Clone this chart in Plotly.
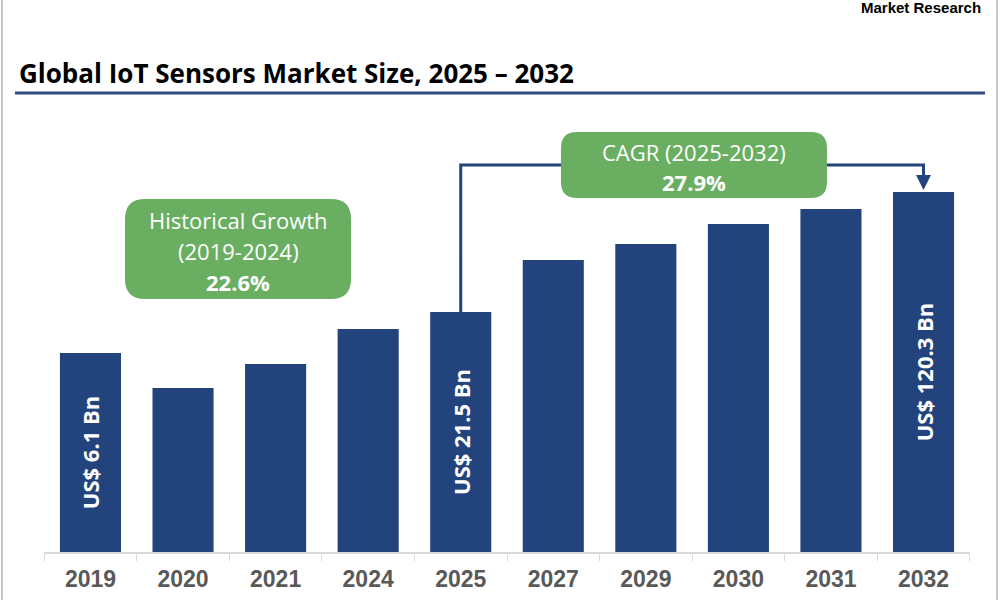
import plotly.graph_objects as go

# data (bar heights are the drawn heights)
years = ["2019", "2020", "2021", "2024", "2025", "2027", "2029", "2030", "2031", "2032"]
bar_heights = [199, 164, 188, 223, 240, 292, 308, 328, 343, 360]
bar_labels = ["US$ 6.1 Bn", "", "", "", "US$ 21.5 Bn", "", "", "", "", "US$ 120.3 Bn"]

hist_lines = ["Historical Growth", "(2019-2024)", "<b>22.6%</b>"]
cagr_lines = ["CAGR (2025-2032)", "<b>27.9%</b>"]

NAVY = "#23437D"
GREEN = "#6AAE62"
W, H = 1000, 600

fig = go.Figure()
fig.add_trace(go.Bar(
    x=years, y=bar_heights, marker_color=NAVY, marker_line_width=0,
    text=bar_labels, textposition="inside", textangle=-90,
    insidetextanchor="middle",
    textfont=dict(family="Open Sans", size=22, color="white", weight="bold"),
    hoverinfo="skip",
))


def rounded_box(x0, x1, y0, y1, r_px):
    # x in category units (1 unit = 92.56 px), y in px units
    rx = r_px / 92.56
    ry = r_px
    return (f"M {x0+rx},{y0} L {x1-rx},{y0} Q {x1},{y0} {x1},{y0+ry} "
            f"L {x1},{y1-ry} Q {x1},{y1} {x1-rx},{y1} L {x0+rx},{y1} "
            f"Q {x0},{y1} {x0},{y1-ry} L {x0},{y0+ry} Q {x0},{y0} {x0+rx},{y0} Z")


i25 = years.index("2025")
i32 = years.index("2032")
line_y = 387

shapes = [
    # connector from the 2025 bar to the 2032 bar
    dict(type="path", xref="x", yref="y",
         path=f"M {i25},{bar_heights[i25]} L {i25},{line_y} L {i32},{line_y} L {i32},{line_y-10}",
         line=dict(color=NAVY, width=3)),
    dict(type="path", xref="x", yref="y", path=rounded_box(0.373, 2.815, 253, 353, 20),
         fillcolor=GREEN, line_width=0),
    dict(type="path", xref="x", yref="y", path=rounded_box(5.083, 7.957, 354, 420, 16),
         fillcolor=GREEN, line_width=0),
    # title underline
    dict(type="line", xref="paper", yref="paper", x0=0.015, x1=0.985,
         y0=1 - 93 / H, y1=1 - 93 / H, line=dict(color="#2F4B7C", width=3)),
    # page borders
    dict(type="line", xref="paper", yref="paper", x0=0.002, x1=0.002, y0=0, y1=1,
         line=dict(color="#C8C8C8", width=2)),
    dict(type="line", xref="paper", yref="paper", x0=0.997, x1=0.997, y0=0, y1=1,
         line=dict(color="#C8C8C8", width=2)),
]

annotations = [
    dict(text="Global IoT Sensors Market Size, 2025 – 2032", xref="paper", yref="paper",
         x=0.017, y=1 - 73 / H, xanchor="left", yanchor="middle", showarrow=False,
         font=dict(family="Open Sans", size=26, color="black", weight="bold")),
    dict(text="Market Research", xref="paper", yref="paper",
         x=0.983, y=1 - 8 / H, xanchor="right", yanchor="middle", showarrow=False,
         font=dict(family="Liberation Sans", size=15, color="black", weight="bold")),
    # arrow head onto the 2032 bar
    dict(x=i32, y=bar_heights[i32] + 2, ax=i32, ay=line_y - 8, xref="x", yref="y",
         axref="x", ayref="y", text="", showarrow=True, arrowhead=2, arrowsize=1,
         arrowwidth=3, arrowcolor=NAVY),
]

hist_x = (0.373 + 2.815) / 2
for t, yy in zip(hist_lines, [332, 301, 270]):
    annotations.append(dict(text=t, x=hist_x, y=yy, xref="x", yref="y", showarrow=False,
                            font=dict(family="Open Sans", size=22, color="white")))
cagr_x = (5.083 + 7.957) / 2
for t, yy in zip(cagr_lines, [400, 370]):
    annotations.append(dict(text=t, x=cagr_x, y=yy, xref="x", yref="y", showarrow=False,
                            font=dict(family="Open Sans", size=22, color="white")))

fig.update_layout(
    width=W, height=H,
    margin=dict(l=0, r=0, t=0, b=0),
    paper_bgcolor="white", plot_bgcolor="white",
    bargap=0.34, showlegend=False,
    shapes=shapes, annotations=annotations,
    xaxis=dict(domain=[44.2 / W, 969.8 / W], range=[-0.5, 9.5], showline=True,
               linecolor="#D9D9D9", linewidth=1.5, ticks="outside", tickson="boundaries",
               ticklen=7, tickcolor="#D9D9D9", showgrid=False, fixedrange=True,
               ticklabelstandoff=6,
               tickfont=dict(family="Liberation Sans", size=23, color="#595959", weight="bold")),
    yaxis=dict(domain=[48 / H, 490 / H], range=[0, 442], visible=False, fixedrange=True),
)

fig.write_html("out.html", config={"displayModeBar": False},
               post_script="document.body.style.margin='0';")
